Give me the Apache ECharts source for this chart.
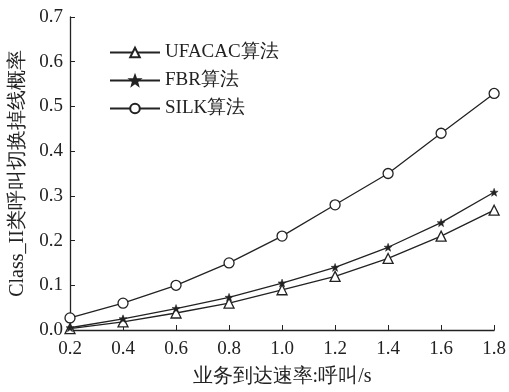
<!DOCTYPE html>
<html><head><meta charset="utf-8">
<script src="https://cdn.jsdelivr.net/npm/echarts@6/dist/echarts.min.js"></script>
<style>html,body{margin:0;padding:0;background:#fff}#c{width:509px;height:392px}</style>
</head><body><div id="c"></div>
<script>
const xValues = [0.2, 0.4, 0.6, 0.8, 1.0, 1.2, 1.4, 1.6, 1.8];
const ufacac = [0.003, 0.018, 0.038, 0.060, 0.090, 0.120, 0.160, 0.210, 0.268];
const fbr = [0.005, 0.025, 0.048, 0.073, 0.105, 0.140, 0.185, 0.240, 0.308];
const silk = [0.027, 0.060, 0.100, 0.150, 0.210, 0.280, 0.350, 0.440, 0.529];
const seriesNames = ['UFACAC算法', 'FBR算法', 'SILK算法'];
const xName = '业务到达速率:呼叫/s';
const yName = 'Class_II类呼叫切换掉线概率';

const font = 'Liberation Serif, Times New Roman, serif';
const starPath = 'path://M0,-10 L2.5,-3 L9.5,-3 L4,1.5 L6,9 L0,4.5 L-6,9 L-4,1.5 L-9.5,-3 L-2.5,-3 Z';
function mk(data) { return xValues.map((x, i) => [x, data[i]]); }
const common = {
  type: 'line',
  lineStyle: { color: '#222', width: 1.3 },
  itemStyle: { color: '#fff', borderColor: '#222', borderWidth: 1.3 },
  showAllSymbol: true,
  animation: false
};
const chart = echarts.init(document.getElementById('c'));
chart.setOption({
  animation: false,
  textStyle: { fontFamily: font },
  grid: { left: 70, right: 13, top: 17, bottom: 59 },
  legend: {
    orient: 'vertical', left: 104, top: 38, itemWidth: 50, itemHeight: 12, itemGap: 9,
    textStyle: { fontFamily: font, fontSize: 19, color: '#222' },
    data: seriesNames
  },
  xAxis: {
    type: 'value', min: 0.2, max: 1.8, interval: 0.2,
    name: xName, nameLocation: 'middle', nameGap: 37,
    nameTextStyle: { fontFamily: font, fontSize: 20, color: '#222' },
    axisLine: { lineStyle: { color: '#222', width: 1.3 } },
    axisTick: { inside: true, length: 5, lineStyle: { color: '#222' } },
    axisLabel: { fontFamily: font, fontSize: 19, color: '#222', margin: 10, formatter: v => v.toFixed(1) },
    splitLine: { show: false }
  },
  yAxis: {
    type: 'value', min: 0, max: 0.7, interval: 0.1,
    name: yName, nameLocation: 'middle', nameGap: 42,
    nameTextStyle: { fontFamily: font, fontSize: 20, color: '#222' },
    axisLine: { show: true, lineStyle: { color: '#222', width: 1.3 } },
    axisTick: { show: true, inside: true, length: 5, lineStyle: { color: '#222' } },
    axisLabel: { fontFamily: font, fontSize: 19, color: '#222', margin: 7, formatter: v => v.toFixed(1) },
    splitLine: { show: false }
  },
  series: [
    Object.assign({}, common, { name: seriesNames[0], data: mk(ufacac), symbol: 'triangle', symbolSize: 10 }),
    Object.assign({}, common, { name: seriesNames[1], data: mk(fbr), symbol: starPath, symbolSize: 8,
      itemStyle: { color: '#222', borderColor: '#222', borderWidth: 0.5 } }),
    Object.assign({}, common, { name: seriesNames[2], data: mk(silk), symbol: 'circle', symbolSize: 10 })
  ]
});
</script></body></html>
